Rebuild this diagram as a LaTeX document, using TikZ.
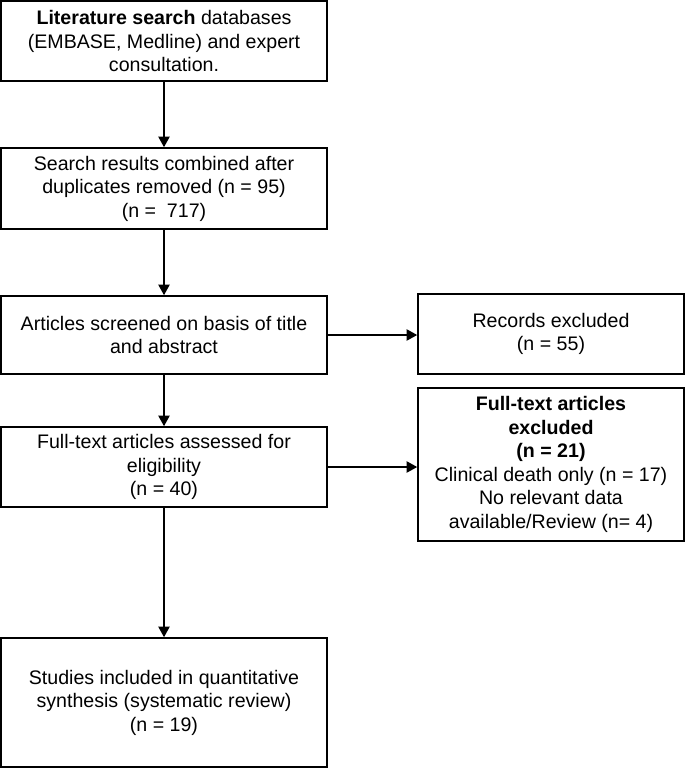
\documentclass[tikz,border=0pt]{standalone}
\usepackage{fontspec}
\setmainfont{Liberation Sans}
\usetikzlibrary{arrows.meta}
\begin{document}
\begin{tikzpicture}[x=0.75pt,y=-0.75pt,
  box/.style={draw=black, line width=1.2pt, align=center, inner sep=2pt,
    font=\fontsize{14.7}{17.6}\selectfont, minimum width=244.5pt},
  rbox/.style={box, minimum width=199.5pt},
  arr/.style={line width=1.2pt, -{Triangle[length=8pt,width=8.5pt]}}]
\useasboundingbox (0,0) rectangle (685,768);
\node[box, minimum height=60pt] (b1) at (164,41)
  {\textbf{Literature search} databases\\(EMBASE, Medline) and expert\\consultation.};
\node[box, minimum height=60.75pt] (b2) at (164,188.5)
  {Search results combined after\\duplicates removed (n = 95)\\(n =\ \ 717)};
\node[box, minimum height=58.5pt] (b3) at (164,335)
  {Articles screened on basis of title\\and abstract};
\node[box, minimum height=60pt] (b4) at (164,467)
  {Full-text articles assessed for\\eligibility\\(n = 40)};
\node[box, minimum height=96.75pt] (b5) at (164,702.5)
  {Studies included in quantitative\\synthesis (systematic review)\\(n = 19)};
\node[rbox, minimum height=60pt] (rec) at (551,334)
  {Records excluded\\(n = 55)};
\node[rbox, minimum height=114.75pt] (ftx) at (551,464.5)
  {\textbf{Full-text articles}\\\textbf{excluded}\\\textbf{(n = 21)}\\Clinical death only (n = 17)\\No relevant data\\available/Review (n= 4)};
\draw[arr] (b1) -- (b2);
\draw[arr] (b2) -- (b3);
\draw[arr] (b3) -- (b4);
\draw[arr] (b4) -- (b5);
\draw[arr] (b3.east) -- (b3.east -| rec.west);
\draw[arr] (b4.east) -- (b4.east -| ftx.west);
\end{tikzpicture}
\end{document}
